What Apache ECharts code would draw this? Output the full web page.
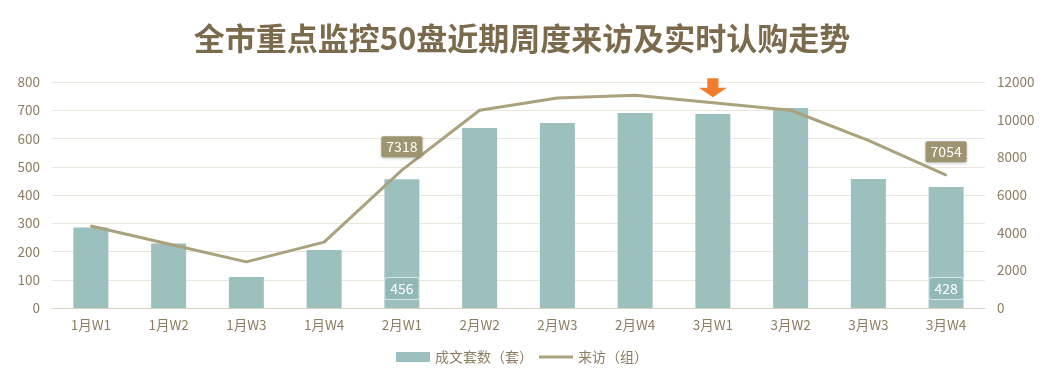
<!DOCTYPE html>
<html>
<head>
<meta charset="utf-8">
<script src="https://cdn.jsdelivr.net/npm/echarts@6/dist/echarts.min.js"></script>
<style>
html,body{margin:0;padding:0;background:#fff;}
#c{width:1044px;height:380px;}
</style>
</head>
<body>
<div id="c"></div>
<script>
const categories = ['1月W1','1月W2','1月W3','1月W4','2月W1','2月W2','2月W3','2月W4','3月W1','3月W2','3月W3','3月W4'];
const dealUnits = [285, 228, 110, 205, 456, 637, 655, 690, 687, 708, 457, 428];
const visits = [4350, 3400, 2450, 3500, 7318, 10500, 11150, 11300, 10900, 10500, 8900, 7054];
const leftTicks = [0, 800, 100];
const rightTicks = [0, 12000, 2000];
const labeledBars = ['2月W1', '3月W4'];
const arrowAt = '3月W1';

const chart = echarts.init(document.getElementById('c'));
const font = '"Noto Sans CJK SC", "Noto Sans", sans-serif';
const axisColor = '#8c7d60';
const lineColor = '#aaa27c';

chart.setOption({
  backgroundColor: '#ffffff',
  textStyle: { fontFamily: font },
  title: {
    text: '全市重点监控50盘近期周度来访及实时认购走势',
    left: 'center',
    top: 18,
    textStyle: { fontFamily: font, fontSize: 31, fontWeight: 'bold', color: '#7b6b4c' }
  },
  legend: {
    bottom: 11,
    left: 'center',
    itemWidth: 34,
    itemHeight: 10,
    itemGap: 6,
    textStyle: { color: '#8c7d60', fontSize: 14, fontFamily: font },
    data: [
      { name: '成文套数（套）', icon: 'rect' },
      { name: '来访（组）', icon: 'path://M0,4 L34,4 L34,7 L0,7 Z', itemStyle: { color: lineColor, opacity: 1 } }
    ]
  },
  grid: { left: 52, right: 59, top: 82, bottom: 72 },
  xAxis: {
    type: 'category',
    data: categories,
    axisTick: { show: false },
    axisLine: { lineStyle: { color: '#d8d2c4' } },
    axisLabel: { color: axisColor, fontSize: 13.5, margin: 10 }
  },
  yAxis: [
    {
      type: 'value', min: leftTicks[0], max: leftTicks[1], interval: leftTicks[2],
      axisLine: { show: false }, axisTick: { show: false },
      axisLabel: { color: axisColor, fontSize: 13.5, margin: 12 },
      splitLine: { lineStyle: { color: '#ebe6dc' } }
    },
    {
      type: 'value', min: rightTicks[0], max: rightTicks[1], interval: rightTicks[2],
      axisLine: { show: false }, axisTick: { show: false },
      axisLabel: { color: axisColor, fontSize: 13.5, margin: 12, formatter: v => String(v) },
      splitLine: { show: false }
    }
  ],
  series: [
    {
      name: '成文套数（套）',
      type: 'bar',
      yAxisIndex: 0,
      barWidth: 35,
      itemStyle: { color: '#9cc0be' },
      data: dealUnits.map((v, i) => ({
        value: v,
        label: labeledBars.includes(categories[i]) ? {
          show: true,
          position: 'insideBottom',
          distance: 9,
          color: '#ffffff',
          fontSize: 14,
          backgroundColor: '#92b8b6',
          borderColor: '#d8e6e5',
          borderWidth: 1,
          borderRadius: 2,
          padding: [4, 5, 3, 5]
        } : { show: false }
      })),
      z: 2
    },
    {
      name: '来访（组）',
      type: 'line',
      yAxisIndex: 1,
      symbol: 'circle',
      symbolSize: 2,
      showSymbol: true,
      showAllSymbol: true,
      lineStyle: { color: lineColor, width: 3 },
      itemStyle: { color: lineColor },
      labelLayout: { hideOverlap: false },
      data: visits.map((v, i) => ({
        value: v,
        label: labeledBars.includes(categories[i]) ? {
          show: true,
          position: 'top',
          distance: 12,
          color: '#ffffff',
          fontSize: 14,
          backgroundColor: '#9c956f',
          borderRadius: 2,
          padding: [4, 5, 3, 5],
          shadowColor: 'rgba(0,0,0,0.25)',
          shadowBlur: 3,
          shadowOffsetY: 1
        } : { show: false }
      })),
      markPoint: {
        symbol: 'path://M3,0 L7,0 L7,5 L10,5 L5,10 L0,5 L3,5 Z',
        symbolSize: [28, 19],
        symbolOffset: [0, -15],
        itemStyle: { color: '#f07d2e', opacity: 1 },
        label: { show: false },
        data: [{ coord: [arrowAt, visits[categories.indexOf(arrowAt)]] }]
      },
      z: 3
    }
  ]
});
</script>
</body>
</html>
